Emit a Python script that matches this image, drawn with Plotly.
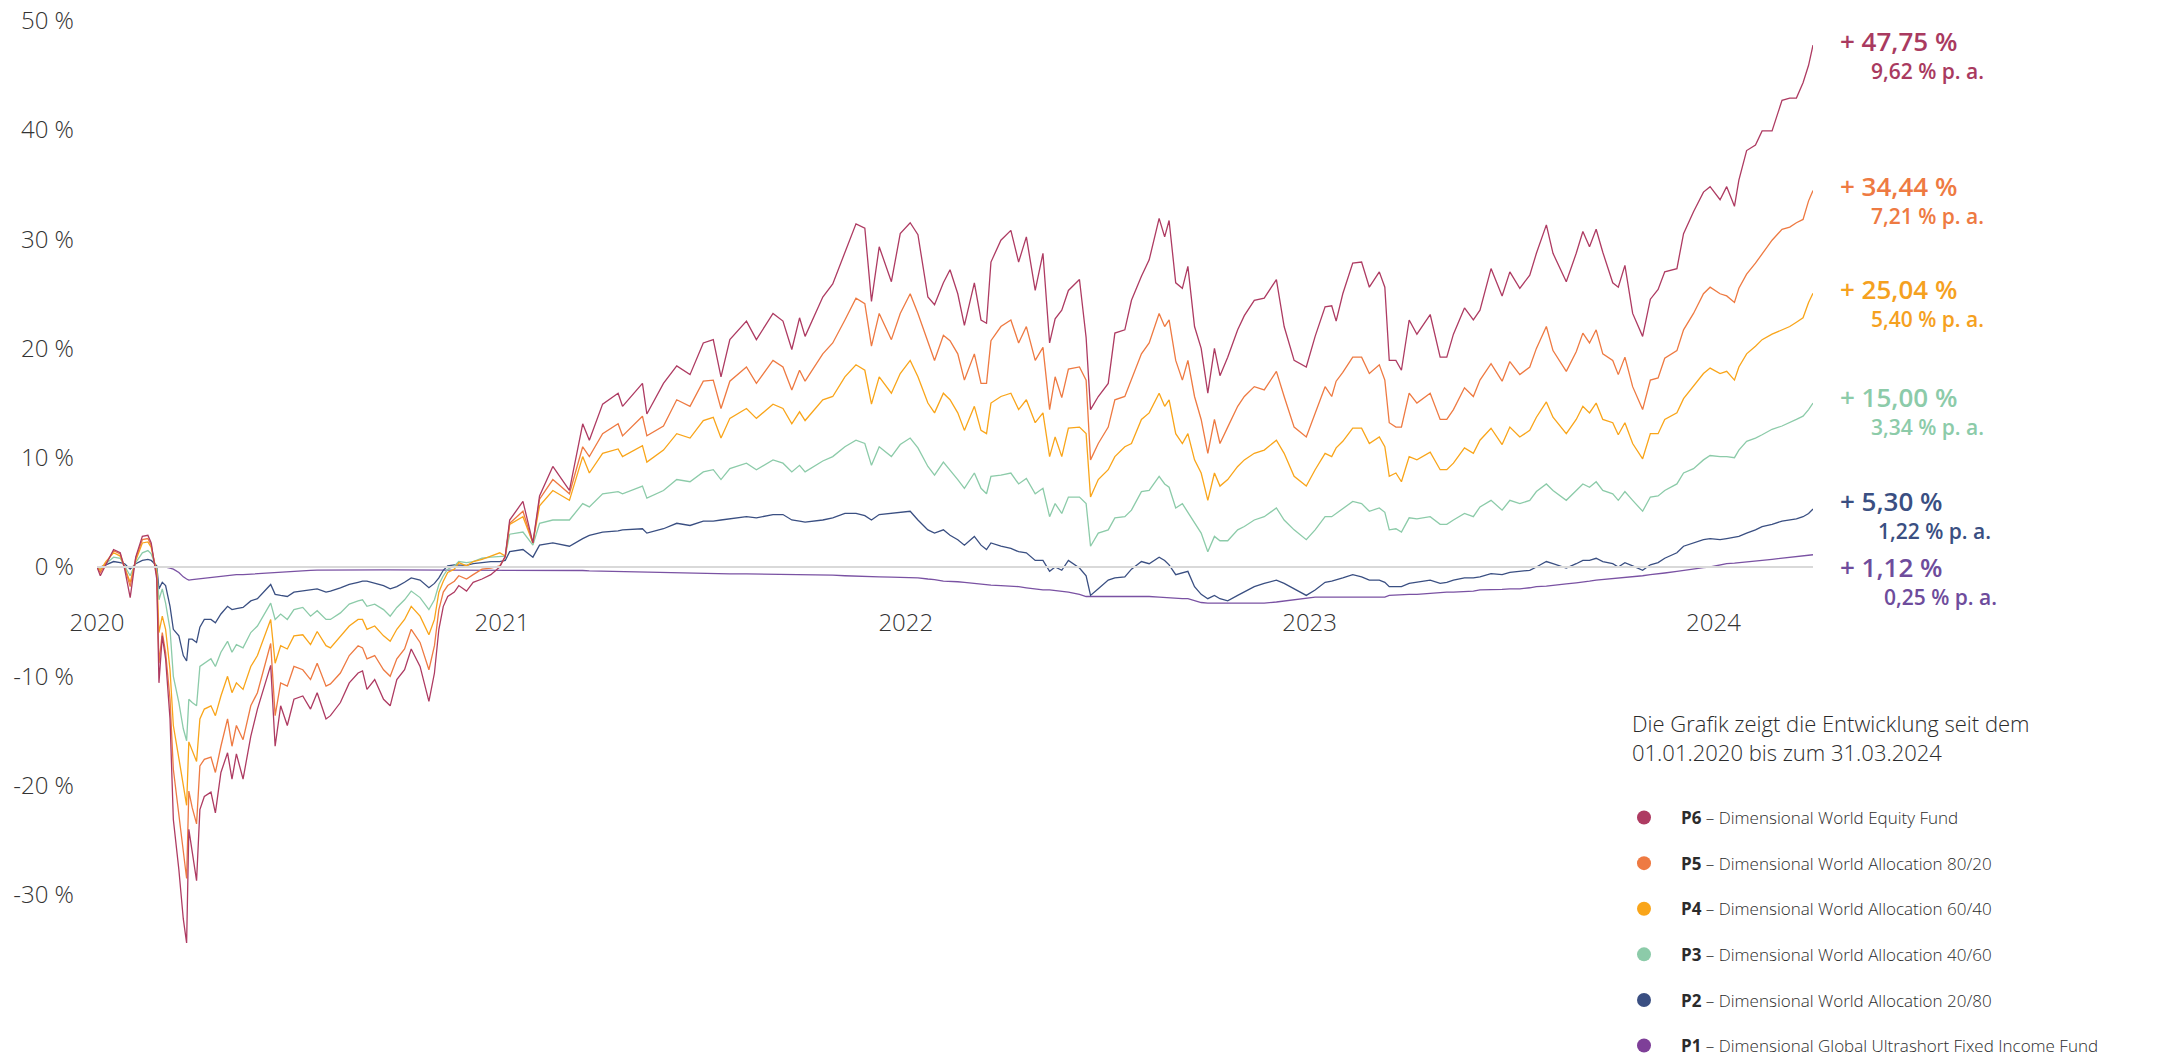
import plotly.graph_objects as go

# ---------------- data ----------------
D2020 = ["2020-01-01","2020-01-04","2020-01-09","2020-01-16","2020-01-22","2020-01-26","2020-01-31","2020-02-05","2020-02-11","2020-02-16",
         "2020-02-19","2020-02-24","2020-02-26","2020-02-29","2020-03-03","2020-03-07","2020-03-10","2020-03-15","2020-03-19","2020-03-22",
         "2020-03-24","2020-03-27","2020-03-31","2020-04-03","2020-04-07","2020-04-13","2020-04-17","2020-04-22","2020-04-28","2020-05-02",
         "2020-05-06","2020-05-12","2020-05-19","2020-05-25","2020-06-06","2020-06-10","2020-06-15","2020-06-21","2020-06-27","2020-07-05",
         "2020-07-12","2020-07-18","2020-07-26","2020-07-30","2020-08-08","2020-08-16","2020-08-24","2020-08-28","2020-09-01","2020-09-08",
         "2020-09-16","2020-09-22","2020-09-28","2020-10-05","2020-10-11","2020-10-19","2020-10-27","2020-11-01","2020-11-05","2020-11-09",
         "2020-11-13","2020-11-19","2020-11-23","2020-11-30","2020-12-06","2020-12-14","2020-12-22","2020-12-30"]
D2021 = ["2021-01-04","2021-01-08","2021-01-20","2021-01-29","2021-02-04","2021-02-16","2021-03-03","2021-03-15","2021-03-21","2021-04-02",
         "2021-04-16","2021-04-20","2021-05-08","2021-05-12","2021-05-27","2021-06-08","2021-06-20","2021-07-02","2021-07-11","2021-07-18",
         "2021-07-26","2021-08-10","2021-08-19","2021-09-03","2021-09-12","2021-09-20","2021-09-27","2021-10-02","2021-10-18","2021-10-27",
         "2021-11-07","2021-11-17","2021-11-25","2021-12-01","2021-12-08","2021-12-19","2021-12-27"]
D2022 = ["2022-01-05","2022-01-12","2022-01-21","2022-01-27","2022-02-04","2022-02-10","2022-02-17","2022-02-23","2022-03-04","2022-03-10",
         "2022-03-15","2022-03-19","2022-03-28","2022-04-06","2022-04-13","2022-04-20","2022-04-28","2022-05-05","2022-05-11","2022-05-16",
         "2022-05-22","2022-05-28","2022-06-07","2022-06-13","2022-06-17","2022-06-24","2022-07-03","2022-07-09","2022-07-18","2022-07-24",
         "2022-08-02","2022-08-09","2022-08-18","2022-08-23","2022-08-27","2022-09-02","2022-09-08","2022-09-13","2022-09-19","2022-09-25",
         "2022-10-01","2022-10-07","2022-10-12","2022-10-19","2022-10-28","2022-11-03","2022-11-12","2022-11-21","2022-12-02","2022-12-09",
         "2022-12-18","2022-12-29"]
D2023 = ["2023-01-06","2023-01-15","2023-01-21","2023-01-25","2023-01-31","2023-02-09","2023-02-17","2023-02-24","2023-03-05","2023-03-10",
         "2023-03-14","2023-03-20","2023-03-25","2023-04-01","2023-04-08","2023-04-20","2023-04-29","2023-05-05","2023-05-11","2023-05-21",
         "2023-05-29","2023-06-04","2023-06-14","2023-06-24","2023-07-01","2023-07-10","2023-07-19","2023-07-25","2023-08-03","2023-08-09",
         "2023-08-21","2023-08-30","2023-09-05","2023-09-11","2023-09-17","2023-09-23","2023-10-02","2023-10-07","2023-10-13","2023-10-20",
         "2023-10-29","2023-11-05","2023-11-12","2023-11-18","2023-11-29","2023-12-05","2023-12-14","2023-12-23","2023-12-29"]
D2024 = ["2024-01-07","2024-01-13","2024-01-20","2024-01-24","2024-01-31","2024-02-08","2024-02-14","2024-02-23","2024-03-03","2024-03-10",
         "2024-03-16","2024-03-22","2024-03-27","2024-03-31"]

P6_2020 = [0.0, -0.8, 0.2, 1.6, 1.3, -0.2, -2.8, 0.9, 2.8, 2.9,
           2.2, -1.1, -10.6, -6.3, -8.4, -13.9, -23.1, -27.7, -32.2, -34.4,
           -24.0, -26.1, -28.7, -22.2, -21.0, -20.6, -22.5, -18.8, -17.0, -19.4,
           -17.1, -19.4, -15.5, -13.0, -9.0, -16.4, -12.7, -14.5, -12.1, -11.8,
           -13.0, -11.5, -13.9, -13.6, -12.4, -10.6, -9.7, -9.5, -11.2, -10.3,
           -12.1, -12.7, -10.3, -9.4, -7.5, -9.1, -12.3, -9.7, -5.7, -3.6,
           -2.7, -2.3, -1.7, -2.2, -1.4, -1.1, -0.7, 0.0]
P6_2021 = [1.0, 4.3, 6.0, 2.2, 6.5, 9.2, 7.0, 13.1, 11.6, 14.9,
           15.9, 14.7, 16.8, 14.0, 16.8, 18.4, 17.6, 20.5, 20.8, 17.4,
           20.8, 22.5, 20.8, 23.2, 22.5, 19.9, 22.8, 21.1, 24.7, 25.9,
           28.7, 31.4, 31.0, 24.3, 29.3, 26.1, 30.5]
P6_2022 = [31.5, 30.4, 24.7, 24.0, 26.0, 27.2, 25.0, 22.1, 26.0, 22.6,
           22.3, 27.9, 29.9, 30.8, 27.9, 30.2, 25.3, 28.7, 20.5, 22.7,
           23.5, 25.3, 26.3, 21.0, 14.4, 15.6, 16.8, 21.4, 21.7, 24.4,
           26.6, 28.1, 31.9, 30.2, 31.7, 26.0, 25.5, 27.5, 22.0, 20.0,
           15.9, 20.0, 17.5, 19.2, 21.7, 23.0, 24.4, 24.6, 26.3, 22.0,
           18.9, 18.3]
P6_2023 = [21.1, 23.8, 23.9, 22.5, 25.0, 27.8, 27.9, 25.6, 27.0, 25.6,
           18.9, 18.9, 18.0, 22.6, 21.3, 23.1, 19.2, 19.2, 21.3, 23.7,
           22.6, 23.5, 27.3, 24.8, 27.0, 25.5, 26.7, 28.7, 31.3, 28.7,
           26.1, 28.7, 30.7, 29.3, 30.9, 28.8, 26.0, 25.6, 27.6, 23.2,
           21.1, 24.5, 25.4, 27.0, 27.3, 30.5, 32.5, 34.3, 34.8]
P6_2024 = [33.6, 34.8, 33.0, 35.4, 38.1, 38.6, 39.9, 39.9, 42.7, 42.9, 42.9, 44.3, 45.9, 47.75]

P5_2020 = [0.0, -0.5, 0.3, 1.5, 1.2, 0.0, -1.8, 0.8, 2.5, 2.6,
           2.0, -0.8, -8.8, -6.0, -7.8, -12.1, -18.5, -22.5, -26.0, -28.5,
           -20.5, -22.0, -23.5, -18.2, -17.6, -17.4, -18.8, -16.4, -13.9, -16.4,
           -14.5, -15.8, -12.7, -11.5, -7.0, -13.6, -10.6, -10.9, -9.1, -9.4,
           -10.3, -8.8, -10.9, -10.7, -9.7, -8.1, -7.2, -7.4, -8.4, -8.1,
           -9.4, -10.0, -8.4, -7.5, -5.7, -6.9, -9.4, -7.2, -3.9, -2.3,
           -1.7, -1.3, -0.8, -1.1, -0.7, -0.2, -0.1, 0.1]
P5_2021 = [0.9, 4.0, 5.1, 2.2, 6.2, 8.0, 6.7, 11.0, 10.1, 12.2,
           13.1, 12.0, 13.8, 12.0, 12.9, 15.3, 14.7, 17.0, 17.1, 14.5,
           17.0, 18.3, 16.8, 18.9, 18.3, 16.2, 18.0, 17.0, 19.5, 20.5,
           22.6, 24.6, 24.1, 20.2, 23.2, 20.8, 23.2]
P5_2022 = [25.0, 23.2, 20.5, 18.9, 21.2, 20.7, 19.5, 17.1, 19.5, 16.8,
           16.8, 20.7, 22.0, 22.6, 20.5, 22.0, 18.9, 20.1, 14.4, 17.4,
           15.5, 18.1, 18.3, 17.1, 9.8, 11.3, 12.8, 15.3, 15.6, 17.1,
           19.5, 20.5, 23.2, 22.0, 22.6, 18.9, 17.1, 18.9, 15.6, 13.5,
           10.4, 13.5, 11.3, 12.8, 14.7, 15.6, 16.5, 16.2, 17.9, 15.6,
           12.8, 11.9]
P5_2023 = [14.1, 16.5, 15.6, 17.0, 17.8, 19.2, 19.2, 17.7, 18.5, 17.1,
           13.2, 12.8, 12.8, 15.9, 15.0, 15.9, 13.5, 13.5, 14.4, 16.4,
           15.6, 17.1, 18.6, 17.0, 18.8, 17.6, 18.3, 20.0, 22.0, 19.8,
           17.9, 19.7, 21.4, 20.5, 21.7, 19.5, 18.9, 17.6, 19.2, 16.5,
           14.4, 17.1, 17.3, 19.1, 19.8, 21.7, 23.2, 25.0, 25.6]
P5_2024 = [25.0, 24.8, 24.2, 25.5, 26.8, 27.8, 28.6, 29.9, 30.9, 31.1, 31.5, 31.8, 33.5, 34.44]

P4_2020 = [0.0, -0.3, 0.5, 1.3, 1.0, 0.0, -1.4, 0.6, 2.2, 2.3,
           1.8, -0.5, -6.0, -4.5, -5.7, -9.4, -14.5, -17.5, -20.0, -21.8,
           -16.0, -16.8, -17.8, -13.9, -13.0, -12.7, -13.6, -11.8, -10.0, -11.5,
           -10.6, -11.2, -9.1, -8.1, -4.8, -8.8, -7.2, -7.5, -6.3, -6.2,
           -7.1, -5.9, -7.2, -7.4, -6.3, -5.4, -4.8, -4.8, -5.7, -5.4,
           -6.3, -6.8, -5.7, -4.8, -3.6, -4.5, -6.2, -4.8, -2.3, -1.3,
           -0.5, -0.2, 0.4, 0.1, 0.5, 0.7, 1.0, 1.3]
P4_2021 = [1.0, 3.9, 4.6, 2.2, 5.6, 7.0, 6.1, 10.1, 8.6, 10.4,
           10.8, 10.1, 11.1, 9.6, 10.7, 12.2, 11.8, 13.4, 13.7, 11.8,
           13.6, 14.5, 13.6, 14.9, 14.5, 13.1, 14.2, 13.4, 15.3, 15.6,
           17.4, 18.5, 18.0, 14.9, 17.4, 15.9, 17.7]
P4_2022 = [18.9, 17.4, 15.0, 14.1, 15.9, 15.3, 14.1, 12.5, 14.7, 12.5,
           12.2, 15.0, 15.6, 15.9, 14.4, 15.3, 13.2, 14.1, 10.1, 11.9,
           10.1, 12.7, 12.8, 12.2, 6.4, 8.0, 8.9, 10.1, 11.0, 11.3,
           13.5, 14.1, 15.9, 14.7, 15.3, 12.2, 11.3, 12.2, 9.8, 8.6,
           6.1, 8.6, 7.4, 8.0, 9.2, 9.8, 10.4, 10.7, 11.6, 10.4,
           8.3, 7.4]
P4_2023 = [8.9, 10.4, 10.1, 10.9, 11.5, 12.7, 12.7, 11.3, 11.9, 11.0,
           8.3, 8.6, 7.8, 10.1, 9.8, 10.5, 8.9, 8.9, 9.5, 10.9,
           10.4, 11.6, 12.7, 11.2, 12.8, 11.9, 12.5, 13.7, 15.1, 13.7,
           12.2, 13.5, 14.7, 14.1, 15.0, 13.5, 13.2, 12.1, 13.2, 11.3,
           9.9, 12.2, 12.2, 13.5, 14.1, 15.4, 16.5, 17.7, 18.2]
P4_2024 = [17.7, 17.9, 17.1, 18.3, 19.5, 20.2, 20.8, 21.3, 21.7, 22.0, 22.4, 22.8, 24.2, 25.04]

P3_2020 = [0.0, -0.2, 0.3, 0.9, 0.8, 0.1, -0.8, 0.4, 1.3, 1.5,
           1.2, -0.2, -3.0, -2.0, -3.3, -5.7, -10.0, -12.4, -14.8, -15.9,
           -12.1, -12.4, -12.7, -9.1, -8.8, -8.4, -9.1, -7.8, -6.8, -7.8,
           -7.1, -7.4, -6.0, -5.4, -3.3, -4.8, -4.3, -4.8, -3.9, -3.7,
           -4.5, -4.0, -4.8, -4.8, -4.2, -3.4, -3.1, -3.0, -3.6, -3.4,
           -3.9, -4.5, -3.7, -3.0, -2.2, -2.8, -3.9, -3.0, -1.6, -0.8,
           -0.2, 0.1, 0.5, 0.4, 0.5, 0.8, 0.9, 1.0]
P3_2021 = [1.0, 3.0, 3.2, 2.0, 4.0, 4.3, 4.3, 5.8, 5.5, 6.7,
           6.9, 6.7, 7.4, 6.3, 7.0, 8.0, 7.8, 8.7, 8.9, 8.0,
           9.0, 9.5, 8.9, 9.8, 9.5, 8.7, 9.3, 8.7, 9.7, 10.1,
           11.0, 11.6, 11.3, 9.3, 11.0, 10.1, 11.2]
P3_2022 = [11.8, 10.9, 9.2, 8.4, 9.6, 8.9, 8.0, 7.2, 8.6, 7.2,
           6.7, 8.3, 8.4, 8.6, 7.6, 8.1, 6.7, 7.2, 4.6, 5.8,
           4.9, 6.4, 6.4, 5.8, 1.9, 3.1, 3.4, 4.5, 4.6, 5.2,
           6.9, 7.0, 8.3, 7.6, 7.3, 5.4, 5.8, 5.0, 4.0, 3.1,
           1.4, 2.8, 2.4, 2.4, 3.4, 3.7, 4.3, 4.6, 5.4, 4.3,
           3.4, 2.5]
P3_2023 = [3.4, 4.6, 4.6, 4.9, 5.3, 6.0, 5.8, 5.1, 5.4, 5.0,
           3.4, 3.5, 3.2, 4.5, 4.4, 4.6, 3.9, 3.9, 4.3, 4.9,
           4.6, 5.5, 6.1, 5.2, 6.1, 5.8, 6.1, 6.9, 7.6, 7.0,
           6.1, 7.0, 7.6, 7.3, 7.8, 7.0, 6.7, 6.1, 6.9, 6.1,
           5.1, 6.4, 6.5, 7.0, 7.6, 8.6, 9.0, 9.8, 10.2]
P3_2024 = [10.1, 10.1, 10.0, 10.7, 11.5, 11.8, 12.1, 12.6, 12.9, 13.2, 13.5, 13.8, 14.4, 15.00]

P2_2020 = [0.0, 0.0, 0.2, 0.5, 0.4, 0.3, -0.2, 0.3, 0.6, 0.7,
           0.6, 0.1, -2.0, -1.4, -1.7, -3.6, -5.7, -6.3, -8.1, -8.6,
           -6.6, -6.6, -6.9, -5.5, -4.8, -4.8, -5.1, -4.3, -3.6, -3.9,
           -3.8, -3.7, -3.1, -2.9, -1.6, -2.5, -2.6, -2.7, -2.3, -2.2,
           -2.1, -2.0, -2.3, -2.2, -1.9, -1.6, -1.4, -1.3, -1.3, -1.5,
           -1.7, -2.0, -1.8, -1.4, -1.0, -1.2, -1.9, -1.5, -1.0, -0.3,
           0.1, 0.2, 0.2, 0.15, 0.3, 0.4, 0.5, 0.5]
P2_2021 = [0.6, 1.4, 1.6, 0.9, 2.0, 2.2, 1.9, 2.6, 2.9, 3.2,
           3.3, 3.4, 3.5, 3.1, 3.5, 4.0, 3.8, 4.2, 4.2, 4.3,
           4.4, 4.6, 4.5, 4.8, 4.8, 4.3, 4.2, 4.1, 4.3, 4.5,
           4.9, 4.9, 4.7, 4.3, 4.8, 4.9, 5.0]
P2_2022 = [5.1, 4.3, 3.4, 3.1, 3.4, 2.9, 2.5, 2.0, 2.8, 2.0,
           1.6, 2.2, 1.9, 1.7, 1.4, 1.3, 0.6, 0.6, -0.4, 0.0,
           -0.3, 0.6, -0.1, -0.8, -2.6, -2.0, -1.2, -1.0, -0.9, -0.2,
           0.5, 0.3, 0.9, 0.6, 0.2, -0.7, -0.5, -0.4, -1.8, -2.5,
           -2.9, -2.6, -2.9, -3.1, -2.6, -2.3, -1.8, -1.5, -1.2, -1.5,
           -2.0, -2.6]
P2_2023 = [-2.1, -1.4, -1.3, -1.2, -1.0, -0.7, -0.9, -1.2, -1.2, -1.4,
           -1.8, -1.8, -1.8, -1.5, -1.4, -1.2, -1.5, -1.4, -1.2, -1.0,
           -1.0, -0.9, -0.6, -0.7, -0.5, -0.4, -0.3, 0.0, 0.5, 0.3,
           -0.1, 0.3, 0.6, 0.6, 0.8, 0.5, 0.3, 0.0, 0.4, 0.1,
           -0.3, 0.2, 0.4, 0.8, 1.3, 1.9, 2.2, 2.5, 2.6]
P2_2024 = [2.5, 2.6, 2.7, 2.8, 3.1, 3.4, 3.7, 3.9, 4.2, 4.3, 4.4, 4.6, 4.9, 5.30]

P1_2020 = [0.0, 0.0, 0.0, 0.0, 0.0, 0.0, 0.0, 0.0, 0.0, 0.0,
           0.0, 0.0, 0.0, 0.0, 0.0, -0.1, -0.2, -0.5, -0.9, -1.1,
           -1.2, -1.15, -1.1, -1.05, -1.0, -0.95, -0.9, -0.85, -0.8, -0.75,
           -0.7, -0.7, -0.65, -0.6, -0.5, -0.5, -0.45, -0.4, -0.35, -0.3,
           -0.3, -0.28, -0.27, -0.27, -0.27, -0.27, -0.27, -0.27, -0.27, -0.27,
           -0.27, -0.27, -0.27, -0.27, -0.27, -0.27, -0.27, -0.27, -0.27, -0.27,
           -0.27, -0.27, -0.27, -0.27, -0.27, -0.27, -0.27, -0.27]
P1_2021 = [-0.28, -0.28, -0.3, -0.3, -0.3, -0.3, -0.3, -0.32, -0.35, -0.38,
           -0.4, -0.4, -0.42, -0.42, -0.45, -0.5, -0.55, -0.58, -0.6, -0.6,
           -0.62, -0.62, -0.63, -0.65, -0.65, -0.68, -0.7, -0.7, -0.72, -0.75,
           -0.8, -0.85, -0.88, -0.9, -0.9, -0.92, -0.95]
P1_2022 = [-0.95, -1.0, -1.1, -1.15, -1.3, -1.3, -1.35, -1.4, -1.5, -1.6,
           -1.6, -1.65, -1.7, -1.75, -1.8, -1.9, -2.0, -2.1, -2.1, -2.15,
           -2.2, -2.3, -2.5, -2.7, -2.7, -2.7, -2.7, -2.7, -2.7, -2.65,
           -2.65, -2.7, -2.75, -2.8, -2.8, -2.85, -2.9, -2.9, -3.1, -3.25,
           -3.3, -3.3, -3.3, -3.3, -3.3, -3.3, -3.3, -3.3, -3.2, -3.1,
           -3.0, -2.85]
P1_2023 = [-2.75, -2.75, -2.75, -2.75, -2.75, -2.75, -2.75, -2.75, -2.75, -2.75,
           -2.6, -2.55, -2.55, -2.5, -2.5, -2.4, -2.35, -2.3, -2.3, -2.25,
           -2.2, -2.1, -2.1, -2.05, -2.0, -2.0, -1.9, -1.8, -1.75, -1.7,
           -1.55, -1.45, -1.4, -1.3, -1.2, -1.15, -1.05, -1.0, -0.95, -0.9,
           -0.8, -0.7, -0.65, -0.55, -0.4, -0.3, -0.2, -0.05, 0.0]
P1_2024 = [0.2, 0.3, 0.35, 0.4, 0.45, 0.55, 0.6, 0.7, 0.8, 0.9, 0.95, 1.0, 1.05, 1.12]

CODES = ["P6", "P5", "P4", "P3", "P2", "P1"]
NAMES = ["Dimensional World Equity Fund",
         "Dimensional World Allocation 80/20",
         "Dimensional World Allocation 60/40",
         "Dimensional World Allocation 40/60",
         "Dimensional World Allocation 20/80",
         "Dimensional Global Ultrashort Fixed Income Fund"]
TOTAL_LABELS = ["+ 47,75 %", "+ 34,44 %", "+ 25,04 %", "+ 15,00 %", "+ 5,30 %", "+ 1,12 %"]
PA_LABELS = ["9,62 % p. a.", "7,21 % p. a.", "5,40 % p. a.", "3,34 % p. a.", "1,22 % p. a.", "0,25 % p. a."]
YEAR_TICKS = ["2020-01-01", "2021-01-01", "2022-01-01", "2023-01-01", "2024-01-01"]
YEAR_LABELS = ["2020", "2021", "2022", "2023", "2024"]
Y_TICKS = [-30, -20, -10, 0, 10, 20, 30, 40, 50]
Y_LABELS = ["-30 %", "-20 %", "-10 %", "0 %", "10 %", "20 %", "30 %", "40 %", "50 %"]
NOTE_LINES = ["Die Grafik zeigt die Entwicklung seit dem", "01.01.2020 bis zum 31.03.2024"]

DATES = D2020 + D2021 + D2022 + D2023 + D2024
SERIES = {
    "P6": P6_2020 + P6_2021 + P6_2022 + P6_2023 + P6_2024,
    "P5": P5_2020 + P5_2021 + P5_2022 + P5_2023 + P5_2024,
    "P4": P4_2020 + P4_2021 + P4_2022 + P4_2023 + P4_2024,
    "P3": P3_2020 + P3_2021 + P3_2022 + P3_2023 + P3_2024,
    "P2": P2_2020 + P2_2021 + P2_2022 + P2_2023 + P2_2024,
    "P1": P1_2020 + P1_2021 + P1_2022 + P1_2023 + P1_2024,
}
for k, v in SERIES.items():
    if len(v) != len(DATES):
        print("length mismatch", k, len(v), len(DATES))

# ---------------- styling / layout ----------------
LINE_COLORS = {"P6": "#AE3B62", "P5": "#EE7A42", "P4": "#F9A51A", "P3": "#8CCBA9", "P2": "#3A4F82", "P1": "#7A52A3"}
DOT_COLORS = {"P6": "#AE3B62", "P5": "#EE7A42", "P4": "#F9A51A", "P3": "#8CCBA9", "P2": "#3A4F82", "P1": "#7E3F98"}
LABEL_COLORS = {"P6": "#A93A60", "P5": "#EE7A42", "P4": "#F5A11F", "P3": "#8CCBA9", "P2": "#3A4F82", "P1": "#6E4C9C"}

W, H = 2164, 1056
ML, MR = 97, 351
PLOT_W = W - ML - MR
Y0_PX = 567.0
PX_PER_PCT = 10.93
Y_TOP = Y0_PX / PX_PER_PCT
Y_BOT = -(H - Y0_PX) / PX_PER_PCT
ZERO_POS = -Y_BOT / (Y_TOP - Y_BOT)

def px_to_paper_x(px):
    return (px - ML) / PLOT_W

def px_to_val(py):
    return (Y0_PX - py) / PX_PER_PCT

FONT = "Open Sans"

fig = go.Figure()

# lines (bottom series first so P6 sits on top)
for code in reversed(CODES):
    fig.add_trace(go.Scatter(
        x=DATES, y=SERIES[code], mode="lines",
        line=dict(color=LINE_COLORS[code], width=1.3),
        showlegend=False, hoverinfo="skip"))

# legend entries (dots)
for code, name in zip(CODES, NAMES):
    fig.add_trace(go.Scatter(
        x=[None], y=[None], mode="markers",
        marker=dict(size=14, color=DOT_COLORS[code]),
        name=f"<b>{code}</b> \u2013 {name}", legendgroup=code, showlegend=True))

# end-of-line labels
MAIN_PY = [41, 186, 289, 397, 501, 567]
SUB_PY = [71, 216, 319, 427, 531, 597]
SUB_DX = [31, 31, 31, 31, 38, 44]
for i, code in enumerate(CODES):
    fig.add_annotation(
        x=px_to_paper_x(1838), xref="paper", xanchor="left",
        y=px_to_val(MAIN_PY[i]), yref="y", yanchor="middle",
        text=TOTAL_LABELS[i], showarrow=False,
        font=dict(family=FONT, size=26, color=LABEL_COLORS[code], weight=600))
    fig.add_annotation(
        x=px_to_paper_x(1838 + SUB_DX[i]), xref="paper", xanchor="left",
        y=px_to_val(SUB_PY[i]), yref="y", yanchor="middle",
        text=PA_LABELS[i], showarrow=False,
        font=dict(family=FONT, size=21, color=LABEL_COLORS[code], weight=600))

# note text
fig.add_annotation(
    x=px_to_paper_x(1630), xref="paper", xanchor="left",
    y=(H - 737) / H, yref="paper", yanchor="middle",
    text="<br>".join(NOTE_LINES), showarrow=False, align="left",
    font=dict(family=FONT, size=22, color="#2b2b2b", weight=300))

fig.update_layout(
    width=W, height=H,
    margin=dict(l=ML, r=MR, t=0, b=0, autoexpand=False),
    paper_bgcolor="white", plot_bgcolor="white",
    showlegend=True,
    legend=dict(
        x=px_to_paper_x(1607), xanchor="left",
        y=(H - 800) / H, yanchor="top",
        font=dict(family=FONT, size=17, color="#2b2b2b", weight=300),
        tracegroupgap=20.5, itemwidth=64, traceorder="grouped",
        bgcolor="rgba(0,0,0,0)"),
    xaxis=dict(
        type="date", range=["2020-01-01", "2024-03-31"],
        anchor="free", position=ZERO_POS,
        showline=True, linecolor="#d9d9d9", linewidth=2,
        showgrid=False, zeroline=False,
        tickvals=YEAR_TICKS, ticktext=YEAR_LABELS, ticks="",
        ticklabelstandoff=34,
        tickfont=dict(family=FONT, size=24, color="#333333", weight=300)),
    yaxis=dict(
        range=[Y_BOT, Y_TOP], showgrid=False, zeroline=False, showline=False,
        tickvals=Y_TICKS, ticktext=Y_LABELS, ticks="",
        ticklabelstandoff=22,
        tickfont=dict(family=FONT, size=24, color="#333333", weight=300)),
)

fig.write_html("out.html")
